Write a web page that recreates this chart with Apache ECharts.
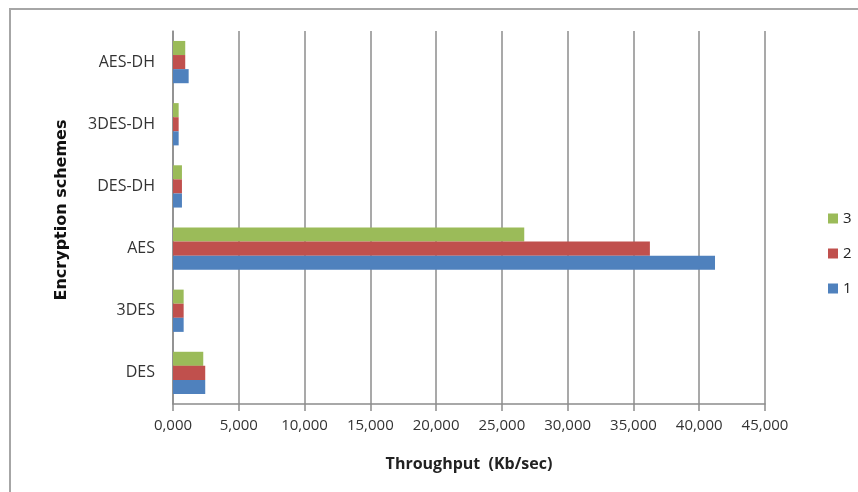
<!DOCTYPE html>
<html>
<head>
<meta charset="utf-8">
<script src="https://cdn.jsdelivr.net/npm/echarts@6/dist/echarts.min.js"></script>
<style>
  html, body { margin: 0; padding: 0; background: #fff; }
  #chart { width: 858px; height: 492px; }
</style>
</head>
<body>
<div id="chart"></div>
<script>
// Encryption schemes, bottom to top on the category axis
const schemes = ['DES', '3DES', 'AES', 'DES-DH', '3DES-DH', 'AES-DH'];
// Throughput (Kb/sec) per run
const run1 = [2450, 810, 41200, 680, 430, 1190];
const run2 = [2450, 810, 36250, 680, 430, 930];
const run3 = [2300, 810, 26700, 680, 430, 930];
const runNames = ['1', '2', '3'];
const colors = ['#4F81BD', '#C0504D', '#9BBB59'];

const font = '"Open Sans", "Liberation Sans", sans-serif';

function fmt(v) {
  if (v === 0) return '0,000';
  return v.toLocaleString('en-US');
}

const chart = echarts.init(document.getElementById('chart'), null, { renderer: 'canvas' });

// Run 3 is listed first so it sits at the top of each group, run 1 at the bottom
const order = [2, 1, 0];
const runs = [run1, run2, run3];

chart.setOption({
  animation: false,
  backgroundColor: '#fff',
  textStyle: { fontFamily: font },
  graphic: [{
    type: 'rect',
    shape: { x: 10, y: 9, width: 900, height: 520 },
    style: { fill: 'none', stroke: '#a6a6a6', lineWidth: 2 },
    silent: true
  }, {
    // vertical axis title, reading bottom to top
    type: 'text',
    x: 62,
    y: 210,
    rotation: Math.PI / 2,
    style: {
      text: 'Encryption schemes',
      font: 'bold 16px "DejaVu Sans", sans-serif',
      fill: '#111',
      align: 'center',
      verticalAlign: 'middle'
    },
    silent: true
  }],
  grid: { left: 173, right: 93, top: 31, bottom: 88 },
  legend: {
    orient: 'vertical',
    left: 823,
    top: 206,
    itemGap: 20,
    itemWidth: 10,
    itemHeight: 10,
    data: ['3', '2', '1'],
    textStyle: { fontSize: 15, color: '#222', fontFamily: font },
    icon: 'rect'
  },
  xAxis: {
    type: 'value',
    min: 0,
    max: 45000,
    interval: 5000,
    name: 'Throughput  (Kb/sec)',
    nameLocation: 'middle',
    nameGap: 52,
    nameTextStyle: { fontWeight: 'bold', fontSize: 16, color: '#222' },
    axisLine: { show: true, lineStyle: { color: '#8c8c8c', width: 1.5 } },
    axisTick: { show: true, length: 7, lineStyle: { color: '#8c8c8c', width: 1.5 } },
    axisLabel: { formatter: fmt, fontSize: 15, color: '#333', margin: 14 },
    splitLine: { show: true, lineStyle: { color: '#8c8c8c', width: 1.5 } }
  },
  yAxis: {
    type: 'category',
    data: schemes,
    axisLine: { show: true, lineStyle: { color: '#8c8c8c', width: 1.5 } },
    axisTick: { show: false },
    axisLabel: { fontSize: 16, color: '#333', margin: 18 }
  },
  series: order.map(i => ({
    name: runNames[i],
    type: 'bar',
    data: runs[i],
    barGap: '0%',
    barCategoryGap: '32%',
    itemStyle: { color: colors[i] }
  }))
});
</script>
</body>
</html>
